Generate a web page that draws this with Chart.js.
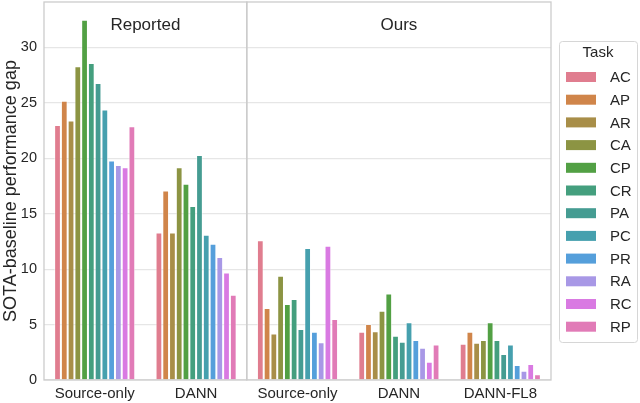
<!DOCTYPE html>
<html>
<head>
<meta charset="utf-8">
<script src="https://cdn.jsdelivr.net/npm/chart.js@4/dist/chart.umd.min.js"></script>
<style>
  html, body { margin: 0; padding: 0; background: #fff; }
  #wrap { position: relative; width: 640px; height: 403px; }
</style>
</head>
<body>
<div id="wrap"><canvas id="gapChart" width="640" height="403"></canvas></div>
<script>
// categorias (dois painéis: Reported = 2 grupos, Ours = 3 grupos)
const groups = ['Source-only', 'DANN', 'Source-only', 'DANN', 'DANN-FL8'];
const panels = [{ title: 'Reported', from: 0, to: 2 }, { title: 'Ours', from: 2, to: 5 }];
const tasks = ['AC', 'AP', 'AR', 'CA', 'CP', 'CR', 'PA', 'PC', 'PR', 'RA', 'RC', 'RP'];
const taskColors = ['#e07d8f', '#d0854a', '#a88e48', '#8c9443', '#52a044', '#449f7e',
                    '#459c92', '#46a0ae', '#559fdb', '#a898e6', '#d97ae2', '#e17bb7'];

// valores, um array por grupo (ordem = tasks)
const reportedSource = [23.0, 25.2, 23.4, 28.3, 32.5, 28.6, 26.8, 24.4, 19.8, 19.4, 19.2, 22.9];
const reportedDann   = [13.3, 17.1, 13.3, 19.2, 17.7, 15.7, 20.3, 13.1, 12.3, 11.1, 9.7, 7.7];
const oursSource     = [12.6, 6.5, 4.2, 9.4, 6.85, 7.3, 4.6, 11.9, 4.35, 3.4, 12.1, 5.5];
const oursDann       = [4.35, 5.05, 4.4, 6.25, 7.8, 4.0, 3.45, 5.2, 3.6, 2.9, 1.65, 3.2];
const oursFl8        = [3.27, 4.35, 3.36, 3.6, 5.2, 3.6, 2.34, 3.2, 1.35, 0.84, 1.44, 0.51];
const yTicks = [0, 5, 10, 15, 20, 25, 30];

const seriesByGroup = [reportedSource, reportedDann, oursSource, oursDann, oursFl8];
const FONT = '"Liberation Sans", Arial, sans-serif';
const TEXT = '#262626';
const FRAME = '#cccccc';

const datasets = tasks.map((t, i) => ({
    label: t,
    data: seriesByGroup.map(g => g[i]),
    backgroundColor: taskColors[i],
    borderColor: 'rgba(255,255,255,0.55)',
    borderWidth: 1,
    categoryPercentage: 0.8,
    barPercentage: 1.0
}));

// ── molduras dos painéis, títulos e legenda desenhados sobre o canvas ──
const painelPlugin = {
    id: 'painelPlugin',
    afterDraw(chart) {
        const { ctx, chartArea: a } = chart;
        const step = (a.right - a.left) / groups.length;
        ctx.save();
        ctx.strokeStyle = FRAME;
        ctx.lineWidth = 1.3;
        panels.forEach(p => {
            const l = a.left + p.from * step;
            const r = a.left + p.to * step;
            ctx.strokeRect(l, a.top, r - l, a.bottom - a.top);
            ctx.fillStyle = TEXT;
            ctx.font = '17px ' + FONT;
            ctx.textAlign = 'center';
            ctx.textBaseline = 'middle';
            ctx.fillText(p.title, (l + r) / 2, 25);
        });

        // legenda
        const lx = 559, ly = 41, lw = 78, lh = 301;
        ctx.strokeStyle = '#d6d6d6';
        ctx.lineWidth = 1;
        ctx.beginPath();
        ctx.roundRect(lx + 0.5, ly + 0.5, lw, lh, 3);
        ctx.fillStyle = '#fff';
        ctx.fill();
        ctx.stroke();
        ctx.fillStyle = TEXT;
        ctx.font = '15px ' + FONT;
        ctx.textAlign = 'center';
        ctx.fillText('Task', lx + lw / 2, 53);
        ctx.textAlign = 'left';
        tasks.forEach((t, i) => {
            const cy = 77 + i * 22.7;
            ctx.fillStyle = taskColors[i];
            ctx.fillRect(566, cy - 5, 30, 10);
            ctx.fillStyle = TEXT;
            ctx.fillText(t, 610, cy + 1);
        });
        ctx.restore();
    }
};

new Chart(document.getElementById('gapChart'), {
    type: 'bar',
    data: { labels: groups, datasets },
    options: {
        responsive: false,
        animation: false,
        layout: { padding: { top: 2, right: 89, left: 0, bottom: 0 } },
        plugins: {
            legend: { display: false },
            tooltip: { enabled: false }
        },
        scales: {
            x: {
                grid: { display: false, drawTicks: false },
                border: { display: false },
                ticks: { color: TEXT, font: { family: FONT, size: 15 }, padding: 5, maxRotation: 0 },
                afterFit: s => { s.height = 23; s.paddingLeft = 0; s.paddingRight = 0; }
            },
            y: {
                min: 0,
                max: 34.1,
                grid: { color: '#e6e6e6', lineWidth: 1.2, drawTicks: false },
                border: { display: false },
                ticks: { color: TEXT, font: { family: FONT, size: 14.5 }, padding: 7 },
                afterBuildTicks: s => { s.ticks = yTicks.map(v => ({ value: v })); },
                afterFit: s => { s.width = 44; s.paddingTop = 0; s.paddingBottom = 0; },
                title: {
                    display: true,
                    text: 'SOTA-baseline performance gap',
                    color: TEXT,
                    font: { family: FONT, size: 18 },
                    padding: { top: 0, bottom: 0 }
                }
            }
        }
    },
    plugins: [painelPlugin]
});
</script>
</body>
</html>
